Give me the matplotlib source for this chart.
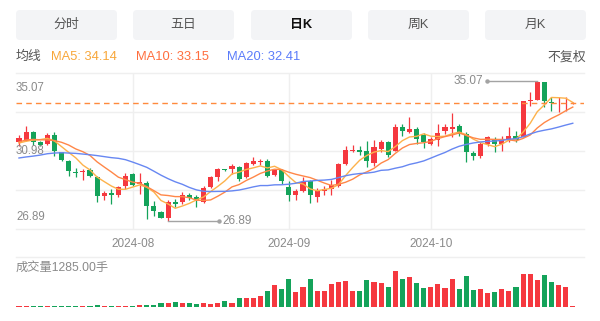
import numpy as np
import pandas as pd
import matplotlib
matplotlib.use('Agg')
import matplotlib.pyplot as plt
from matplotlib.patches import FancyBboxPatch

plt.rcParams['font.family'] = ['Liberation Sans', 'Noto Sans CJK SC', 'DejaVu Sans']

# daily candles, 2024-07-10 .. 2024-10-31
opens = [31.50, 31.58, 32.10, 31.49, 31.39, 31.92, 30.90, 30.41, 29.77, 29.73,
         29.86, 29.47, 28.36, 28.50, 28.42, 28.94, 29.60, 29.04, 29.12, 27.77,
         27.38, 27.05, 28.00, 27.98, 28.42, 28.30, 28.00, 28.85, 29.47, 29.88,
         29.92, 30.06, 29.44, 30.22, 30.32, 30.41, 29.58, 29.86, 28.88, 28.42,
         28.65, 29.20, 28.28, 28.62, 28.74, 28.90, 30.22, 30.98, 31.04, 31.00,
         30.26, 31.10, 31.49, 31.00, 32.41, 32.07, 32.27, 31.94, 31.39, 31.63,
         32.13, 32.27, 32.47, 31.98, 30.84, 30.71, 31.39, 31.68, 31.39, 31.65,
         31.88, 31.82, 33.89, 33.97, 35.02, 33.86, 33.78, 33.78, 33.78]
highs = [31.90, 32.42, 32.15, 31.58, 32.04, 32.08, 30.95, 30.45, 29.96, 29.92,
         29.96, 29.50, 28.65, 28.75, 28.95, 29.67, 29.68, 29.68, 29.22, 28.06,
         27.45, 28.10, 28.15, 28.55, 28.52, 28.42, 28.95, 29.50, 29.97, 29.90,
         30.22, 30.10, 30.32, 30.61, 30.50, 30.50, 29.95, 29.95, 29.24, 28.75,
         29.45, 29.28, 28.80, 28.95, 29.25, 30.30, 31.29, 31.33, 31.28, 31.55,
         31.63, 31.63, 31.59, 32.56, 32.56, 32.99, 32.37, 32.02, 31.78, 32.56,
         32.56, 33.19, 32.56, 32.08, 30.96, 31.49, 31.88, 31.82, 31.88, 32.41,
         32.17, 33.93, 34.42, 35.07, 35.05, 34.17, 34.13, 34.13, 33.86]
lows = [31.30, 31.55, 31.35, 31.25, 31.35, 30.70, 30.38, 29.53, 29.44, 29.28,
        29.45, 27.97, 28.11, 27.87, 28.25, 28.75, 28.93, 28.45, 26.99, 27.18,
        27.02, 26.89, 27.72, 27.85, 28.10, 27.70, 27.95, 28.80, 29.20, 29.82,
        29.63, 29.20, 29.40, 30.18, 30.18, 29.47, 29.50, 29.05, 28.06, 28.10,
        28.55, 27.95, 27.98, 28.40, 28.42, 28.85, 30.18, 30.92, 30.75, 30.02,
        30.12, 30.90, 30.65, 30.96, 31.88, 32.02, 31.39, 31.16, 31.35, 31.29,
        31.98, 31.78, 31.88, 30.31, 30.45, 30.57, 31.29, 30.90, 30.96, 31.49,
        31.49, 31.78, 33.64, 33.97, 33.58, 33.31, 33.25, 33.35, 33.76]
closes = [31.72, 32.12, 31.50, 31.33, 31.94, 30.96, 30.45, 29.82, 29.71, 29.82,
          29.53, 28.36, 28.50, 28.42, 28.85, 29.53, 29.00, 29.14, 27.74, 27.44,
          27.05, 27.98, 27.87, 28.40, 28.22, 28.08, 28.83, 29.47, 29.90, 29.85,
          30.12, 29.34, 30.26, 30.38, 30.41, 29.53, 29.84, 29.24, 28.38, 28.62,
          29.14, 28.40, 28.68, 28.75, 28.98, 30.22, 31.04, 31.05, 30.92, 30.37,
          31.19, 31.49, 30.76, 32.37, 32.13, 32.27, 31.68, 31.49, 31.68, 32.02,
          32.37, 32.41, 31.98, 30.90, 30.71, 31.39, 31.78, 31.39, 31.63, 31.88,
          31.65, 33.89, 33.97, 35.05, 33.89, 33.82, 33.82, 33.82, 33.81]
volumes = [1100, 1000, 900, 900, 1000, 1000, 1000, 1100, 1000, 1000,
           1000, 2200, 1000, 1000, 1100, 1100, 1000, 1300, 2200, 1300,
           3900, 4800, 5200, 4800, 4800, 2600, 4300, 2600, 4800, 6500,
           4300, 10800, 11300, 11300, 13400, 19900, 27300, 23000, 36000, 18600,
           25100, 36000, 20400, 19500, 29000, 31600, 33400, 20400, 19500, 34700,
           31600, 30300, 25100, 46400, 35500, 37700, 30300, 23800, 25100, 29000,
           23800, 36000, 23000, 39000, 21200, 23000, 17800, 18200, 22100, 20400,
           25600, 42000, 42000, 34700, 41200, 32100, 28200, 25600, 1285]

# moving averages before the window starts (history not shown)
ma5_head = [31.45, 31.55, 31.62, 31.65]
ma10_head = [31.51, 31.63, 31.66, 31.64, 31.63, 31.59, 31.49, 31.33, 31.10]
ma20_head = [30.57, 30.63, 30.68, 30.74, 30.82, 30.86, 30.88, 30.86, 30.84, 30.80,
             30.76, 30.71, 30.65, 30.59, 30.55, 30.47, 30.33, 30.18, 30.02]

month_idx = [16, 38, 58]
month_lbl = ['2024-08', '2024-09', '2024-10']
tabs = ['分时', '五日', '日K', '周K', '月K']
active_tab = '日K'
legend_vals = [('MA5', 34.14), ('MA10', 33.15), ('MA20', 32.41)]

UP, DOWN = '#F5383F', '#14A35A'
MA_COLORS = {'MA5': '#FDB24B', 'MA10': '#FF8748', 'MA20': '#6787F2'}
LEG_COLORS = {'MA5': '#F8A73A', 'MA10': '#FF6E3E', 'MA20': '#5B7CFA'}
GRID = '#EFEFEF'

o = np.array(opens); h = np.array(highs); l = np.array(lows); c = np.array(closes)
v = np.array(volumes, dtype=float)
x = np.arange(len(c))
cs = pd.Series(c)
mas = {}
for n, head in [(5, ma5_head), (10, ma10_head), (20, ma20_head)]:
    m = cs.rolling(n).mean().to_numpy()
    m[:n - 1] = head
    mas[f'MA{n}'] = m

W, H = 600, 321
fig = plt.figure(figsize=(6, 3.21), dpi=100)
bg = fig.add_axes([0, 0, 1, 1])
bg.set_xlim(0, W); bg.set_ylim(H, 0); bg.axis('off')

def fx(px):
    return px / W

def fy(py):
    return 1 - py / H

# tabs
tab_x = [16, 133, 251, 368, 485]
for tx, name in zip(tab_x, tabs):
    bg.add_patch(FancyBboxPatch((tx, 10), 101, 30, boxstyle='round,pad=0,rounding_size=4',
                                fc='#F3F4F6', ec='none'))
    act = name == active_tab
    bg.text(tx + 50.5, 25, name, ha='center', va='center', fontsize=9.3,
            color='#111111' if act else '#555555', fontweight='bold' if act else 'normal')

# legend row
bg.text(16, 57, '均线', ha='left', va='center', fontsize=9.3, color='#555555')
for lx, (name, val) in zip([51, 136, 227], legend_vals):
    bg.text(lx, 57, f'{name}: {val:.2f}', ha='left', va='center', fontsize=9.3,
            color=LEG_COLORS[name])
bg.text(586, 57, '不复权', ha='right', va='center', fontsize=9.3, color='#555555')

# price panel
ax = fig.add_axes([fx(16), fy(229), fx(584) - fx(16), fy(73) - fy(229)])
ax.patch.set_alpha(0)
for s in ax.spines.values():
    s.set_visible(False)
ax.set_xticks([]); ax.set_yticks([])
xlim = (-0.42, 79.58)
ax.set_xlim(*xlim)
pad = (h.max() - l.min()) * 0.06
ylo, yhi = l.min() - pad, h.max() + pad
ax.set_ylim(ylo, yhi)
for lv in np.linspace(ylo, yhi, 5):
    ax.axhline(lv, color=GRID, lw=1, clip_on=False, zorder=0)
for m in month_idx:
    ax.axvline(m, color=GRID, lw=1, zorder=0)

up = c >= o
col = np.where(up, UP, DOWN)
ax.vlines(x, l, h, colors=col, lw=0.9, zorder=2)
body = np.maximum(np.abs(c - o), 0.045)
ax.bar(x, body, bottom=np.minimum(o, c), width=0.72, color=col, zorder=3)

for name, m in mas.items():
    ax.plot(x, m, color=MA_COLORS[name], lw=1.0, zorder=4)

ax.axhline(c[-1], color='#FF8A3D', lw=1, ls=(0, (4, 3)), zorder=5)

# extremes
imax, imin = int(np.argmax(h)), int(np.argmin(l))
ax.plot([imax, imax - 7.08], [h[imax]] * 2, color='#A3A3A3', lw=1, zorder=5)
ax.plot([imax - 7.08], [h[imax]], 'o', ms=2.2, color='#A3A3A3', zorder=5)
ax.text(imax - 7.6, h[imax], f'{h[imax]:.2f}', ha='right', va='center', fontsize=8.5, color='#8A8A8A')
ax.plot([imin, imin + 7.17], [l[imin]] * 2, color='#A3A3A3', lw=1, zorder=5)
ax.plot([imin + 7.17], [l[imin]], 'o', ms=2.2, color='#A3A3A3', zorder=5)
ax.text(imin + 7.6, l[imin], f'{l[imin]:.2f}', ha='left', va='center', fontsize=8.5, color='#8A8A8A')

# price scale labels
mid = (h.max() + l.min()) / 2
ax.annotate(f'{h.max():.2f}', xy=(xlim[0], h.max()), xytext=(0, -6.7), textcoords='offset pixels',
            ha='left', va='center', fontsize=8.3, color='#8A8A8A')
ax.annotate(f'{mid:.2f}', xy=(xlim[0], mid), xytext=(0, 0), textcoords='offset pixels',
            ha='left', va='center', fontsize=8.3, color='#8A8A8A')
ax.annotate(f'{l.min():.2f}', xy=(xlim[0], l.min()), xytext=(0, 3.7), textcoords='offset pixels',
            ha='left', va='center', fontsize=8.3, color='#8A8A8A')

for m, lbl in zip(month_idx, month_lbl):
    ax.annotate(lbl, xy=(m, ylo), xytext=(0, -15), textcoords='offset pixels',
                ha='center', va='center', fontsize=8.5, color='#8A8A8A', annotation_clip=False)

# volume panel
axv = fig.add_axes([fx(16), fy(306.5), fx(584) - fx(16), fy(257) - fy(306.5)])
axv.patch.set_alpha(0)
for s in axv.spines.values():
    s.set_visible(False)
axv.set_xticks([]); axv.set_yticks([])
axv.set_xlim(*xlim)
vtop = v.max() * 1.386
axv.set_ylim(0, vtop)
axv.axhline(vtop, color=GRID, lw=1, clip_on=False)
axv.bar(x, v, width=0.72, color=col)
bg.text(16, 268, f'成交量{v[-1]:.2f}手', ha='left', va='center', fontsize=8.8, color='#8A8A8A')

fig.savefig('out.png', dpi=100)
